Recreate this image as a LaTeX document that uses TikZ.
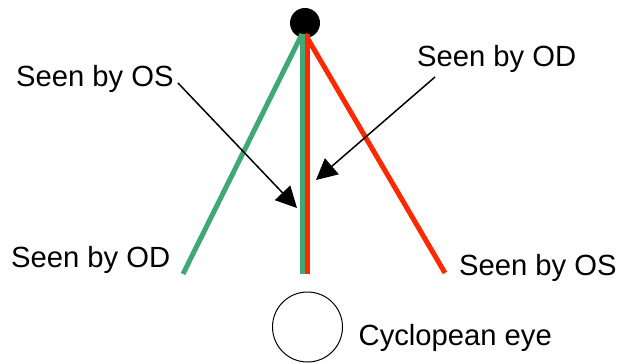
\documentclass[tikz,border=0pt]{standalone}
\usepackage{fontspec}
\setmainfont{Liberation Sans}
\usetikzlibrary{arrows.meta}
\definecolor{eyegreen}{RGB}{64,168,118}
\definecolor{eyered}{RGB}{255,40,0}
\tikzset{
  lbl/.style={anchor=base west, inner sep=0pt, font=\fontsize{29.2}{31}\selectfont},
  gline/.style={draw=eyegreen, line width=5pt},
  rline/.style={draw=eyered, line width=5pt},
  pointer/.style={draw=black, line width=1.5pt, -{Triangle[length=21pt,width=21pt]}},
}
\begin{document}
\begin{tikzpicture}[x=1pt,y=-1pt]
\useasboundingbox (0,0) rectangle (620,363);
% fixation point
\node[circle, fill=black, minimum size=30pt, inner sep=0pt] (fix) at (305,23) {};
% line end points
\coordinate (gtop) at (302,34);
\coordinate (rtop) at (305,34);
\coordinate (gleft) at (183,274);
\coordinate (gbot) at (302,274);
\coordinate (rbot) at (307,274);
\coordinate (rright) at (445,273);
\coordinate (rvtop) at (307,34);
% lines
\draw[gline] (gtop) -- (gleft);
\draw[rline] (rtop) -- (rright);
\draw[gline] (gtop) -- (gbot);
\draw[rline] (rvtop) -- (rbot);
% labels
\node[lbl] (osTop) at (16,87) {Seen by OS};
\node[lbl] (odTop) at (417,67) {Seen by OD};
\node[lbl] (odLeft) at (11,267) {Seen by OD};
\node[lbl] (osRight) at (459,275) {Seen by OS};
\node[lbl] (cyc) at (358.5,345) {Cyclopean eye};
% cyclopean eye
\node[circle, draw=black, line width=1pt, minimum size=70pt, inner sep=0pt] (eye) at (307.5,327) {};
% pointers
\coordinate (pa) at (178,83);
\coordinate (pat) at (297,208);
\coordinate (pb) at (435,77);
\coordinate (pbt) at (316,180);
\draw[pointer] (pa) -- (pat);
\draw[pointer] (pb) -- (pbt);
\end{tikzpicture}
\end{document}
